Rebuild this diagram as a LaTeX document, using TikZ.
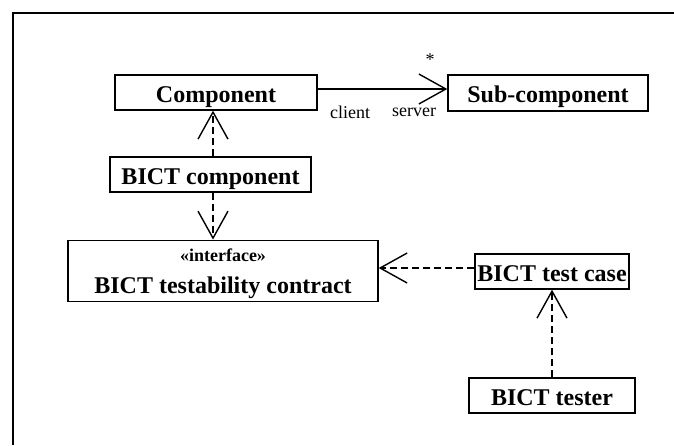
\documentclass[tikz,border=0pt]{standalone}
\usepackage{fontspec}
\setmainfont{Liberation Serif}
\usetikzlibrary{arrows.meta}
\tikzset{
  box/.style={draw, line width=1.4pt, fill=white, inner sep=0pt, text height=19pt, text depth=0pt, font=\fontsize{24}{26}\selectfont\bfseries},
  dep/.style={line width=1.3pt, dash pattern=on 7pt off 4pt, -{Straight Barb[length=27pt, width=30pt, line width=1.4pt]}},
  assoc/.style={line width=1.4pt, -{Straight Barb[length=27pt, width=30pt, line width=1.4pt]}},
  small/.style={font=\fontsize{18}{20}\selectfont, inner sep=0pt},
  stereo/.style={font=\fontsize{18}{20}\selectfont\bfseries, inner sep=0pt},
  big/.style={font=\fontsize{24}{26}\selectfont\bfseries, inner sep=0pt}
}
\begin{document}
\begin{tikzpicture}[x=1pt, y=-1pt]
\useasboundingbox (0,0) rectangle (674,445);
% frame
\draw[line width=2pt] (674,13) -- (12.5,13) -- (12.5,445);
% nodes
\node[box, minimum width=202pt, minimum height=35pt] (comp) at (216,92.5) {Component};
\node[box, minimum width=200pt, minimum height=36pt] (sub) at (548,93) {Sub-component};
\node[box, minimum width=201pt, minimum height=35pt] (bc) at (210.5,174.5) {BICT component};
\node[box, minimum width=310pt, minimum height=61.5pt] (iface) at (223,271) {};
\node[stereo] (ifst) at (223,255.5) {«interface»};
\node[big] (ifname) at (223,287.5) {BICT testability contract};
\node[box, minimum width=154pt, minimum height=35pt] (tc) at (552,271.5) {BICT test case};
\node[box, minimum width=166pt, minimum height=35pt] (tester) at (552,395.5) {BICT tester};
% helper coordinates
\coordinate (va) at (213,0);
\coordinate (ha) at (0,89);
\coordinate (hb) at (0,268);
% connectors
\draw[assoc] (comp.east |- ha) -- (sub.west |- ha);
\node[small] (star) at (430,60) {*};
\node[small] (client) at (350,112) {client};
\node[small] (server) at (414,112) {server};
\draw[dep] (bc.north -| va) -- (comp.south -| va);
\draw[dep] (bc.south -| va) -- (iface.north -| va);
\draw[dep] (tc.west |- hb) -- (iface.east |- hb);
\draw[dep] (tester.north) -- (tc.south);
\end{tikzpicture}
\end{document}
